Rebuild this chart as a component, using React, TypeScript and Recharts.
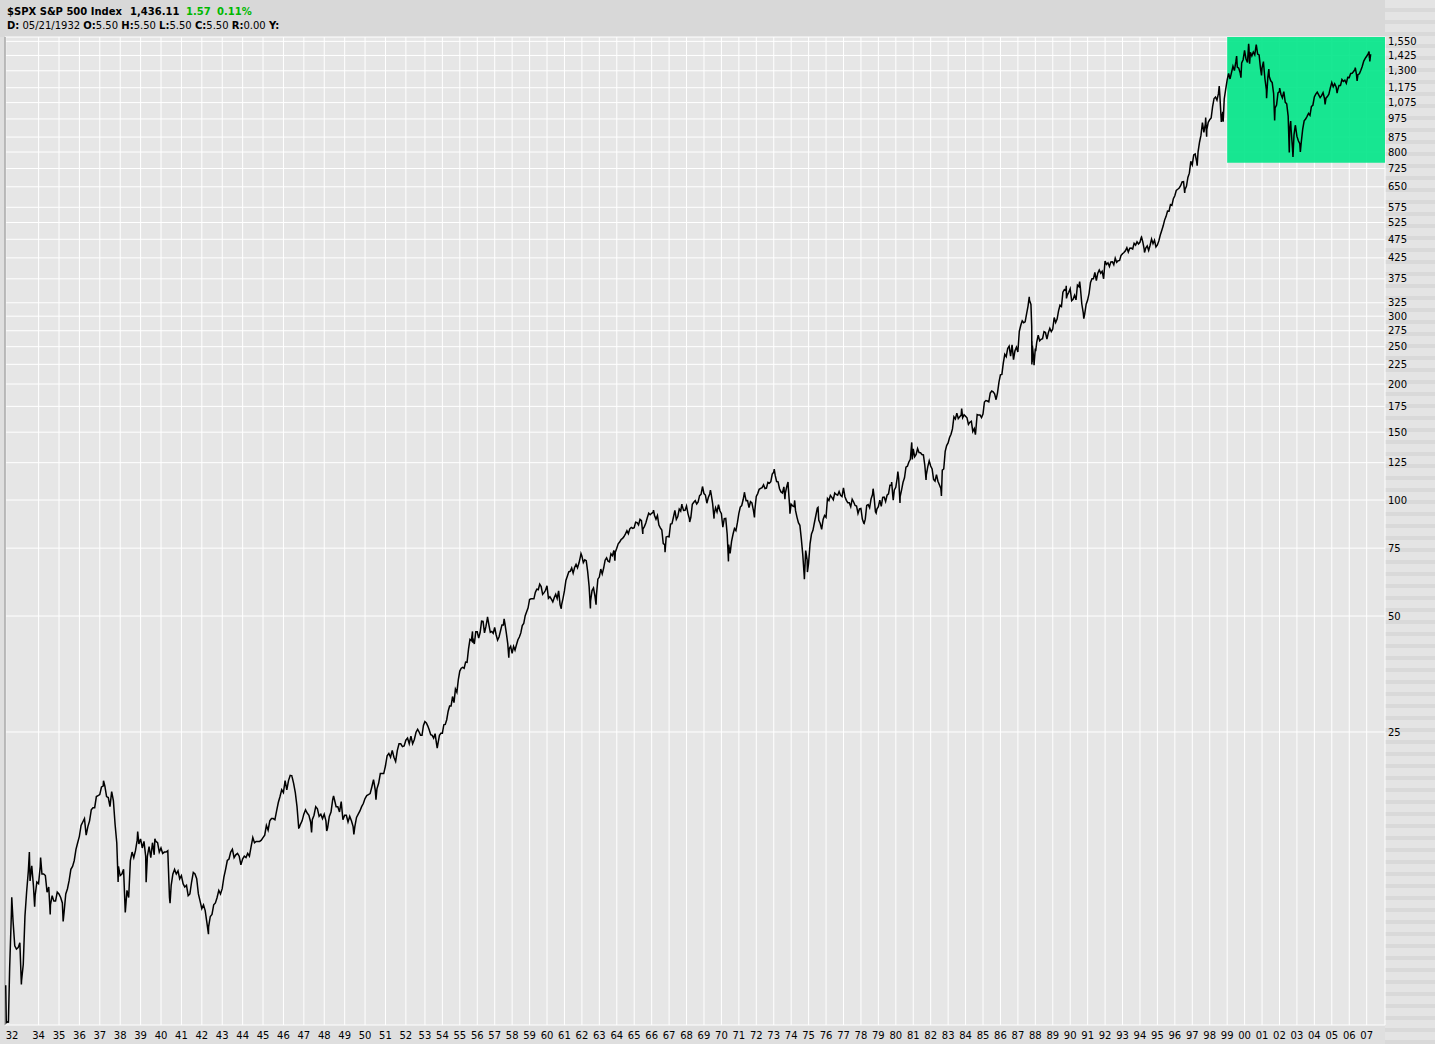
import React from "react";
import { CartesianGrid, Line, LineChart, ReferenceArea, ReferenceLine, XAxis, YAxis } from "recharts";

// Monthly closes, $SPX. Each block starts at the given year/month.
const closes30s = [
  4.47, 4.43, 6.1, 8.39, 8.08, 6.97, 6.83, 6.89,
  7.09, 5.66, 6.23, 8.32, 9.64, 10.91, 10.26, 11.24, 9.95, 9.41, 10.2, 10.1,
  11.2, 10.7, 10.7, 10.6, 9.6, 9.9, 8.9, 9.4, 9.1, 9.1, 9.6, 9.5,
  9.3, 9.0, 8.5, 9.5, 9.8, 10.3, 11.0, 11.2, 11.6, 12.4, 12.9, 13.4,
  14.3, 14.6, 14.9, 13.5, 14.2, 14.7, 15.7, 15.9, 15.9, 17.0, 17.1, 17.2,
  18.0, 18.1, 18.1, 17.0, 16.9, 16.0, 17.5, 16.6, 14.4, 12.9, 11.2, 10.6,
  10.7, 11.0, 8.5, 9.7, 9.3, 11.6, 12.2, 11.8, 12.3, 13.1, 12.8, 13.2,
  12.5, 13.0, 11.9, 11.9, 12.6, 11.8, 12.9, 12.0, 13.0, 12.9, 12.2, 12.5,
];
const closes40s = [
  12.1, 12.2, 12.2, 12.3, 9.3, 10.0, 10.7, 11.0, 10.7, 10.9, 10.4, 10.6,
  10.1, 9.9, 10.0, 9.4, 9.5, 10.2, 10.8, 10.7, 10.4, 9.5, 9.1, 8.7,
  8.9, 8.6, 8.0, 7.8, 8.3, 8.4, 8.9, 9.0, 9.3, 9.7, 9.5, 9.8,
  10.5, 11.0, 11.6, 11.7, 12.2, 12.4, 11.8, 12.0, 12.1, 11.9, 11.3, 11.7,
  11.9, 11.8, 12.1, 11.9, 12.6, 13.3, 12.9, 13.0, 13.0, 13.0, 13.1, 13.3,
  13.5, 14.3, 13.9, 14.7, 14.9, 14.9, 14.8, 15.6, 16.4, 17.0, 17.7, 17.4,
  18.7, 17.7, 18.7, 19.3, 19.2, 18.4, 17.4, 16.0, 14.1, 14.4, 14.7, 15.3,
  15.7, 15.4, 15.2, 14.6, 14.8, 15.2, 16.0, 15.8, 15.1, 15.3, 14.9, 15.3,
  14.7, 14.1, 15.1, 15.5, 16.7, 16.7, 16.0, 16.0, 15.5, 16.5, 14.8, 15.2,
  15.2, 14.6, 15.1, 14.7, 14.2, 14.2, 15.0, 15.3, 15.6, 16.0, 16.3, 16.8,
];
const closes50s = [
  17.1, 17.2, 17.3, 18.0, 18.8, 17.7, 17.8, 18.4, 19.5, 19.5, 19.5, 20.4,
  21.7, 22.0, 21.5, 22.4, 21.5, 20.96, 22.4, 23.3, 23.3, 22.9, 23.0, 23.8,
  24.1, 23.3, 24.4, 23.3, 23.9, 24.96, 25.4, 25.0, 24.5, 24.5, 26.0, 26.6,
  26.4, 25.9, 25.3, 24.6, 24.5, 24.1, 24.75, 23.3, 23.35, 24.5, 24.8, 24.8,
  26.1, 26.15, 26.9, 28.3, 29.2, 29.2, 30.9, 29.8, 32.3, 31.7, 34.2, 35.98,
  36.6, 36.8, 36.6, 37.96, 37.9, 41.0, 43.5, 43.2, 43.7, 42.3, 45.5, 45.5,
  43.8, 45.3, 48.5, 48.4, 45.2, 46.97, 49.4, 47.5, 45.35, 45.6, 45.1, 46.7,
  44.7, 43.3, 44.1, 45.7, 47.4, 47.4, 47.9, 45.2, 42.4, 41.1, 41.7, 39.99,
  41.7, 40.8, 42.1, 43.4, 44.1, 45.2, 47.2, 47.8, 50.1, 51.3, 52.5, 55.2,
  55.4, 55.4, 55.4, 57.6, 58.7, 58.5, 60.5, 59.6, 56.9, 57.5, 58.3, 59.9,
];
const closes60s = [
  55.6, 56.1, 55.3, 54.4, 55.8, 56.9, 55.5, 58.1, 53.5, 53.4, 55.5, 58.1,
  61.8, 63.4, 65.1, 65.3, 66.6, 64.6, 66.8, 68.1, 66.7, 68.6, 71.3, 71.6,
  68.8, 69.96, 69.6, 65.2, 59.6, 54.75, 58.2, 59.1, 56.3, 56.5, 62.3, 63.1,
  66.2, 64.3, 66.6, 69.8, 70.8, 69.4, 69.1, 72.5, 71.7, 74.0, 73.2, 75.0,
  77.0, 77.8, 78.98, 79.5, 80.4, 81.7, 83.2, 81.8, 84.2, 84.9, 84.4, 84.75,
  87.6, 87.4, 86.2, 89.1, 88.4, 84.1, 85.3, 87.2, 89.96, 92.4, 91.6, 92.4,
  92.9, 91.2, 89.2, 91.1, 86.1, 84.7, 83.6, 77.1, 76.6, 80.2, 80.45, 80.3,
  86.6, 86.8, 90.2, 94.0, 89.1, 90.6, 94.75, 93.6, 96.7, 93.9, 94.0, 96.5,
  92.2, 89.4, 90.2, 97.5, 98.7, 99.6, 97.7, 98.9, 102.7, 103.4, 108.4, 103.9,
  103.0, 98.1, 101.5, 103.7, 103.5, 97.7, 91.8, 95.5, 93.1, 97.2, 93.8, 92.1,
];
const closes70s = [
  85.0, 89.5, 89.6, 81.5, 76.6, 72.7, 78.1, 81.5, 84.3, 83.25, 87.2, 92.15,
  95.9, 96.75, 100.3, 103.95, 99.6, 99.7, 95.6, 99.0, 98.3, 94.2, 93.99, 102.1,
  103.9, 106.6, 107.2, 107.7, 109.5, 107.1, 107.4, 111.1, 110.55, 111.6, 116.7, 118.05,
  116.0, 111.7, 111.5, 106.97, 104.95, 104.3, 108.2, 104.25, 108.4, 108.3, 95.96, 97.55,
  96.6, 96.2, 93.98, 90.3, 87.3, 86.0, 79.3, 72.15, 63.5, 73.9, 69.97, 68.56,
  76.98, 81.6, 83.4, 87.3, 91.15, 95.2, 88.75, 86.9, 83.9, 89.0, 91.2, 90.2,
  100.9, 99.7, 102.8, 101.6, 100.2, 104.3, 103.4, 102.9, 105.2, 102.9, 102.1, 107.5,
  102.0, 99.8, 98.4, 98.4, 96.1, 100.5, 98.85, 96.8, 96.5, 92.3, 94.8, 95.1,
  89.25, 87.0, 89.2, 96.8, 97.3, 95.5, 100.7, 103.3, 102.5, 93.15, 94.7, 96.1,
  99.9, 96.3, 101.6, 101.8, 99.1, 102.9, 103.8, 109.3, 109.3, 101.8, 106.2, 107.9,
];
const closes80s = [
  114.2, 113.7, 102.1, 106.3, 111.2, 114.2, 121.7, 122.4, 125.5, 127.5, 140.5, 135.8,
  129.55, 131.3, 136.0, 132.8, 132.6, 131.2, 130.9, 122.8, 116.2, 121.9, 126.35, 122.55,
  120.4, 113.1, 111.96, 116.4, 111.9, 109.6, 107.1, 119.5, 120.4, 133.7, 138.5, 140.6,
  145.3, 148.1, 152.96, 164.4, 162.4, 168.1, 162.6, 164.4, 166.1, 163.55, 166.4, 164.9,
  163.4, 157.1, 159.2, 160.05, 150.55, 153.2, 150.7, 166.7, 166.1, 166.1, 163.6, 167.2,
  179.6, 181.2, 180.7, 179.8, 189.55, 191.85, 190.9, 188.6, 182.1, 189.8, 202.2, 211.3,
  211.8, 226.9, 238.9, 235.5, 247.35, 250.8, 236.1, 252.9, 231.3, 243.98, 249.2, 242.2,
  274.1, 284.2, 291.7, 288.4, 290.1, 304.0, 318.7, 329.8, 321.8, 251.8, 230.3, 247.1,
  257.1, 267.8, 258.9, 261.3, 262.2, 273.5, 272.0, 261.5, 271.9, 278.97, 273.7, 277.7,
  297.5, 288.9, 294.9, 309.6, 320.5, 317.98, 346.1, 351.45, 349.2, 340.4, 345.99, 353.4,
];
const closes90s = [
  329.1, 331.9, 339.9, 330.8, 361.2, 358.0, 356.15, 322.6, 306.05, 304.0, 322.2, 330.2,
  343.9, 367.1, 375.2, 375.35, 389.8, 371.2, 387.8, 395.4, 387.9, 392.5, 375.2, 417.1,
  408.8, 412.7, 403.7, 414.95, 415.35, 408.1, 424.2, 414.0, 417.8, 418.7, 431.35, 435.7,
  438.8, 443.4, 451.7, 440.2, 450.2, 450.5, 448.1, 463.6, 458.9, 467.8, 461.8, 466.45,
  481.6, 467.1, 445.8, 450.9, 456.5, 444.3, 458.3, 475.5, 462.7, 472.35, 453.7, 459.3,
  470.4, 487.4, 500.7, 514.7, 533.4, 544.75, 562.1, 561.9, 584.4, 581.5, 605.4, 615.9,
  636.0, 640.4, 645.5, 654.2, 669.1, 670.6, 639.95, 651.99, 687.3, 705.3, 757.0, 740.7,
  786.2, 790.8, 757.1, 801.3, 848.3, 885.1, 954.3, 899.5, 947.3, 914.6, 955.4, 970.4,
  980.3, 1049.3, 1101.75, 1111.75, 1090.8, 1133.8, 1120.7, 957.3, 1017.0, 1098.7, 1163.6, 1229.2,
  1279.6, 1238.3, 1286.4, 1335.2, 1301.8, 1372.7, 1328.7, 1320.4, 1282.7, 1362.9, 1389.0, 1469.25,
];
const closes00s = [
  1394.5, 1366.4, 1498.6, 1452.4, 1420.6, 1454.6, 1430.8, 1517.7, 1436.5, 1429.4, 1315.2, 1320.3,
  1366.0, 1239.9, 1160.3, 1249.5, 1255.8, 1224.4, 1211.2, 1133.6, 1040.9, 1059.8, 1139.45, 1148.1,
  1130.2, 1106.7, 1147.4, 1076.9, 1067.1, 989.8, 911.6, 916.1, 815.3, 885.8, 936.3, 879.8,
  855.7, 841.2, 848.2, 916.9, 963.6, 974.5, 990.3, 1008.0, 995.97, 1050.7, 1058.2, 1111.9,
  1131.1, 1144.9, 1126.2, 1107.3, 1120.7, 1140.8, 1101.7, 1104.2, 1114.6, 1130.2, 1173.8, 1211.9,
  1181.3, 1203.6, 1180.6, 1156.85, 1191.5, 1191.3, 1234.2, 1220.3, 1228.8, 1207.0, 1249.5, 1248.3,
  1280.1, 1280.7, 1294.8, 1310.6, 1270.1, 1270.2, 1276.7, 1303.8, 1335.85, 1377.9, 1400.6, 1418.3,
  1438.2, 1406.8,
];

const closeBlocks = [
  { year: 1932, month: 5, values: closes30s },
  { year: 1940, month: 1, values: closes40s },
  { year: 1950, month: 1, values: closes50s },
  { year: 1960, month: 1, values: closes60s },
  { year: 1970, month: 1, values: closes70s },
  { year: 1980, month: 1, values: closes80s },
  { year: 1990, month: 1, values: closes90s },
  { year: 2000, month: 1, values: closes00s },
];

// intra-month highs/lows worth keeping: [year, month, day, value]
const dailyPoints: [number, number, number, number][] = [
  [1932, 5, 21, 5.5], [1932, 6, 1, 4.4], [1932, 7, 8, 4.4], [1932, 9, 7, 9.31],
  [1933, 2, 27, 5.53], [1933, 7, 18, 12.2], [1933, 10, 21, 8.8], [1934, 2, 6, 11.8], [1934, 7, 26, 8.4],
  [1935, 3, 14, 8.06], [1937, 3, 6, 18.68], [1937, 11, 24, 10.2], [1938, 11, 9, 13.79],
  [1939, 4, 8, 10.18], [1939, 9, 12, 13.2], [1940, 6, 10, 8.99], [1942, 4, 28, 7.47],
  [1946, 5, 29, 19.25], [1946, 10, 9, 14.12], [1947, 5, 17, 13.71], [1948, 2, 14, 13.84],
  [1948, 6, 15, 17.06], [1949, 6, 13, 13.55], [1950, 7, 13, 16.68], [1953, 9, 14, 22.71],
  [1955, 9, 23, 45.6], [1955, 9, 26, 42.6], [1956, 8, 2, 49.74], [1957, 7, 15, 49.13],
  [1957, 10, 22, 38.98], [1960, 10, 25, 52.2], [1961, 12, 12, 72.64], [1962, 6, 26, 52.32],
  [1962, 10, 23, 53.49], [1963, 11, 22, 69.61], [1965, 6, 28, 81.6], [1966, 2, 9, 94.06],
  [1966, 10, 7, 73.2], [1967, 9, 25, 97.59], [1968, 3, 5, 87.72], [1969, 5, 14, 106.16],
  [1969, 7, 29, 89.48], [1970, 5, 26, 69.29], [1971, 4, 28, 104.77], [1971, 11, 23, 90.16],
  [1973, 1, 11, 120.24], [1973, 8, 22, 100.53], [1973, 10, 26, 111.38], [1973, 12, 5, 92.16],
  [1974, 3, 13, 99.74], [1974, 10, 3, 62.28], [1974, 12, 6, 65.01], [1975, 7, 15, 95.61],
  [1978, 3, 6, 86.9], [1978, 9, 12, 106.99], [1978, 11, 14, 92.49], [1979, 10, 5, 111.27],
  [1979, 11, 7, 99.87], [1980, 2, 13, 118.44], [1980, 3, 27, 98.22], [1980, 11, 28, 140.52],
  [1980, 12, 11, 127.36], [1981, 9, 25, 112.77], [1982, 8, 12, 102.42], [1983, 10, 10, 172.65],
  [1984, 7, 24, 147.82], [1987, 8, 25, 336.77], [1987, 10, 16, 282.7], [1987, 10, 19, 224.84],
  [1987, 10, 21, 258.38], [1987, 10, 26, 227.67], [1987, 12, 4, 223.92], [1988, 1, 8, 243.4],
  [1989, 10, 9, 359.8], [1989, 10, 13, 333.65], [1990, 7, 16, 368.95], [1990, 10, 11, 295.46],
  [1994, 2, 2, 482.0], [1994, 4, 4, 438.9], [1996, 7, 24, 626.6], [1997, 4, 11, 737.7],
  [1997, 10, 7, 983.1], [1997, 10, 27, 876.99], [1998, 7, 17, 1186.75], [1998, 10, 8, 959.44],
  [1999, 7, 16, 1418.8], [1999, 10, 15, 1247.4], [2000, 3, 24, 1527.46], [2000, 4, 14, 1356.6],
  [2000, 9, 1, 1520.8], [2000, 12, 20, 1264.7], [2001, 1, 30, 1373.7], [2001, 4, 4, 1103.3],
  [2001, 5, 21, 1312.8], [2001, 9, 21, 965.8], [2002, 1, 4, 1172.5], [2002, 7, 23, 797.7],
  [2002, 8, 22, 962.7], [2002, 10, 9, 776.76], [2002, 11, 27, 938.9], [2003, 3, 11, 800.7],
  [2004, 8, 12, 1063.2], [2005, 4, 20, 1137.5], [2006, 5, 5, 1325.8], [2006, 6, 13, 1223.7],
  [2007, 2, 20, 1459.7], [2007, 2, 27, 1399.0], [2007, 3, 5, 1374.1], [2007, 3, 23, 1436.11],
];

const yearTicks = [
  1934, 1935, 1936, 1937, 1938, 1939, 1940, 1941, 1942, 1943, 1944, 1945, 1946, 1947, 1948, 1949,
  1950, 1951, 1952, 1953, 1954, 1955, 1956, 1957, 1958, 1959, 1960, 1961, 1962, 1963, 1964, 1965,
  1966, 1967, 1968, 1969, 1970, 1971, 1972, 1973, 1974, 1975, 1976, 1977, 1978, 1979, 1980, 1981,
  1982, 1983, 1984, 1985, 1986, 1987, 1988, 1989, 1990, 1991, 1992, 1993, 1994, 1995, 1996, 1997,
  1998, 1999, 2000, 2001, 2002, 2003, 2004, 2005, 2006, 2007,
];
const priceTicks = [
  25, 50, 75, 100, 125, 150, 175, 200, 225, 250, 275, 300, 325, 375, 425, 475, 525, 575, 650, 725,
  800, 875, 975, 1075, 1175, 1300, 1425, 1550,
];

// header quote line: [label, value]
const quoteFields: [string, string][] = [
  ["D:", " 05/21/1932 "],
  ["O:", "5.50 "],
  ["H:", "5.50 "],
  ["L:", "5.50 "],
  ["C:", "5.50 "],
  ["R:", "0.00 "],
  ["Y:", ""],
];

// x axis counts trading sessions: until mid-1952 the NYSE also opened on
// Saturdays, so those years are ~17% wider than later ones.
const SATURDAYS_END = 1952.55;
const SATURDAY_STRETCH = 1.17;
const sessionX = (t: number) => (t >= SATURDAYS_END ? t : SATURDAYS_END - (SATURDAYS_END - t) * SATURDAY_STRETCH);

const X_MIN = 1928.92;
const X_MAX = 2008.05;
const Y_MIN = 4.34;
const Y_MAX = 1591;
const FIRST_DATE = 1932 + 4 / 12 + 20 / 365;

function buildSeries() {
  const pts: { t: number; v: number }[] = [];
  closeBlocks.forEach((b) => {
    let y = b.year;
    let m = b.month;
    b.values.forEach((v) => {
      pts.push({ t: y + m / 12 - 0.002, v });
      m += 1;
      if (m > 12) {
        m = 1;
        y += 1;
      }
    });
  });
  dailyPoints.forEach(([y, m, d, v]) => pts.push({ t: y + (m - 1) / 12 + (d - 0.5) / 366, v }));
  pts.sort((a, b) => a.t - b.t);
  return pts.map((p) => ({ x: sessionX(p.t), v: p.v }));
}

const series = buildSeries();
const xTicks = [sessionX(FIRST_DATE), ...yearTicks.map(sessionX)];
const xLabels = ["32", ...yearTicks.map((y) => String(y % 100).padStart(2, "0"))];

const FONT = "'DejaVu Sans', Verdana, sans-serif";

function YearTick(props: any) {
  const { x, y, index } = props;
  return (
    <text x={x} y={y + 12} textAnchor={index === 0 ? "start" : "middle"} fontSize={10} fontFamily={FONT} fill="#000">
      {xLabels[index]}
    </text>
  );
}

function Header() {
  const green = "#00b800";
  return (
    <svg width={1385} height={37} style={{ position: "absolute", left: 0, top: 0 }}>
      <g fontFamily={FONT} fontSize={10} fill="#000">
        <text x={7} y={15} fontWeight="bold">$SPX S&amp;P 500 Index</text>
        <text x={130} y={15} fontWeight="bold">1,436.11</text>
        <text x={186} y={15} fontWeight="bold" fill={green}>1.57</text>
        <text x={217} y={15} fontWeight="bold" fill={green}>0.11%</text>
        <text x={7} y={29} xmlSpace="preserve" style={{ whiteSpace: "pre" }}>
          {quoteFields.map(([label, value]) => (
            <React.Fragment key={label}>
              <tspan fontWeight="bold">{label}</tspan>
              <tspan>{value}</tspan>
            </React.Fragment>
          ))}
        </text>
      </g>
    </svg>
  );
}

export default function App() {
  return (
    <div
      style={{
        position: "absolute",
        left: 0,
        top: 0,
        width: 1435,
        height: 1044,
        overflow: "hidden",
        background: "#dfdfdf",
      }}
    >
      <div style={{ position: "absolute", left: 0, top: 0, width: 1385, height: 37, background: "#d8d8d8" }} />
      <div
        style={{
          position: "absolute",
          left: 1385,
          top: 0,
          width: 50,
          height: 1044,
          background: "repeating-linear-gradient(to bottom, #e4e4e4 0px, #e4e4e4 8px, #d9d9d9 8px, #d9d9d9 12px)",
        }}
      />
      <div style={{ position: "absolute", left: 5, top: 37, width: 1380, height: 988, background: "#e6e6e6" }} />
      <Header />
      <div style={{ position: "absolute", left: 0, top: 0 }}>
        <LineChart width={1435} height={1044} data={series} margin={{ top: 37, right: 0, bottom: 0, left: 5 }}>
          <CartesianGrid stroke="#ffffff" strokeWidth={1} />
          <XAxis
            type="number"
            dataKey="x"
            domain={[X_MIN, X_MAX]}
            allowDataOverflow
            ticks={xTicks}
            interval={0}
            height={19}
            tickLine={false}
            axisLine={false}
            tickSize={0}
            tick={YearTick}
          />
          <YAxis
            orientation="right"
            type="number"
            scale="log"
            domain={[Y_MIN, Y_MAX]}
            allowDataOverflow
            ticks={priceTicks}
            interval={0}
            width={50}
            tickLine={false}
            axisLine={false}
            tickSize={0}
            tickMargin={3}
            tick={{ fontSize: 10, fill: "#000", fontFamily: FONT }}
            tickFormatter={(v: number) => v.toLocaleString("en-US")}
          />
          <ReferenceArea x1={sessionX(1999.0)} x2={X_MAX} y1={750} y2={Y_MAX} fill="#00e687" fillOpacity={0.9} stroke="none" />
          <ReferenceLine x={X_MIN} stroke="#a4a4a4" strokeWidth={1.5} />
          <Line
            type="linear"
            dataKey="v"
            stroke="#000"
            strokeWidth={1.5}
            dot={false}
            isAnimationActive={false}
          />
        </LineChart>
      </div>
    </div>
  );
}
